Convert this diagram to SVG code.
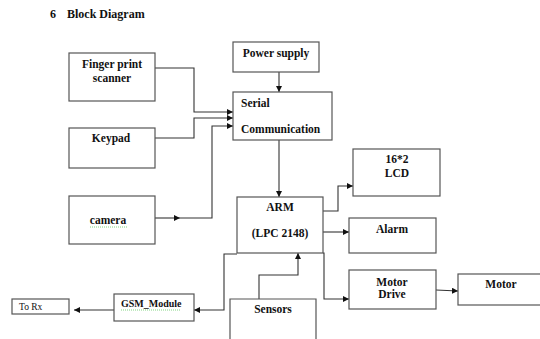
<svg xmlns="http://www.w3.org/2000/svg" width="540" height="339" viewBox="0 0 540 339">
<defs>
<style>
.box{fill:#fff;stroke:#555;stroke-width:1.2}
.c{fill:none;stroke:#333;stroke-width:1.1}
.t{font-family:"Liberation Serif","Times New Roman",serif;font-weight:bold;font-size:11.5px;fill:#111}
.m{text-anchor:middle}
.sq{fill:none;stroke:#6c6;stroke-width:0.8;stroke-dasharray:1 1}
</style>
<marker id="ah" viewBox="0 0 10 10" refX="10" refY="5" markerWidth="6" markerHeight="6" orient="auto" markerUnits="userSpaceOnUse">
<path d="M0,0 L10,5 L0,10 z" fill="#111"/>
</marker>
</defs>
<rect width="540" height="339" fill="#fff"/>
<text class="t" x="50" y="18" style="font-size:12px">6</text>
<text class="t" x="67" y="18" style="font-size:12px">Block Diagram</text>

<g id="connectors">
<polyline class="c" points="155,68 194,68 194,112 233,112" marker-end="url(#ah)"/>
<polyline class="c" points="155,138 194,138 194,118 233,118" marker-end="url(#ah)"/>
<line class="c" x1="155" y1="218" x2="180" y2="218" marker-end="url(#ah)"/>
<polyline class="c" points="180,218 212,218 212,126 233,126" marker-end="url(#ah)"/>
<line class="c" x1="279" y1="72" x2="279" y2="92" marker-end="url(#ah)"/>
<line class="c" x1="279" y1="140" x2="279" y2="197" marker-end="url(#ah)"/>
<polyline class="c" points="323,211 338,211 338,186 353,186" marker-end="url(#ah)"/>
<line class="c" x1="323" y1="232" x2="349" y2="232" marker-end="url(#ah)"/>
<polyline class="c" points="323,253 324,253 324,299 349,299" marker-end="url(#ah)"/>
<line class="c" x1="436" y1="290" x2="458" y2="291" marker-end="url(#ah)"/>
<polyline class="c" points="259,299 259,275 298,275 298,253" marker-end="url(#ah)"/>
<polyline class="c" points="237,254 224,254 224,310 194,310" marker-end="url(#ah)"/>
<line class="c" x1="114" y1="310" x2="74" y2="310" marker-end="url(#ah)"/>
</g>

<g id="finger">
<rect class="box" x="69" y="53" width="86" height="48"/>
<text class="t m" x="112" y="68">Finger print</text>
<text class="t m" x="112" y="82">scanner</text>
</g>
<g id="keypad">
<rect class="box" x="69" y="128" width="86" height="40"/>
<text class="t m" x="111" y="142">Keypad</text>
</g>
<g id="camera">
<rect class="box" x="69" y="196" width="86" height="48"/>
<text class="t m" x="108" y="224">camera</text>
<line class="sq" x1="90" y1="227" x2="127" y2="227"/>
</g>
<g id="power">
<rect class="box" x="233" y="42" width="86" height="30"/>
<text class="t m" x="276" y="57">Power supply</text>
</g>
<g id="serial">
<rect class="box" x="233" y="92" width="99" height="48"/>
<text class="t" x="241" y="107">Serial</text>
<text class="t" x="241" y="133">Communication</text>
</g>
<g id="arm">
<rect class="box" x="237" y="197" width="86" height="56"/>
<text class="t m" x="280" y="211">ARM</text>
<text class="t m" x="280" y="237">(LPC 2148)</text>
</g>
<g id="lcd">
<rect class="box" x="353" y="149" width="87" height="47"/>
<text class="t m" x="397" y="163">16*2</text>
<text class="t m" x="397" y="177">LCD</text>
</g>
<g id="alarm">
<rect class="box" x="349" y="218" width="87" height="35"/>
<text class="t m" x="392" y="233">Alarm</text>
</g>
<g id="motordrive">
<rect class="box" x="349" y="270" width="87" height="39"/>
<text class="t m" x="392" y="286">Motor</text>
<text class="t m" x="392" y="298">Drive</text>
</g>
<g id="motor">
<rect class="box" x="458" y="274" width="86" height="31"/>
<text class="t m" x="501" y="288">Motor</text>
</g>
<g id="sensors">
<polyline class="box" points="230,340 230,299 316,299 316,340"/>
<text class="t m" x="273" y="313">Sensors</text>
</g>
<g id="gsm">
<rect class="box" x="114" y="294" width="80" height="27"/>
<text class="t" x="121" y="307" style="font-size:10px">GSM_Module</text>
<line class="sq" x1="121" y1="310" x2="180" y2="310"/>
</g>
<g id="torx">
<rect class="box" x="12" y="299" width="57" height="15"/>
<text x="19" y="310" style="font-family:'Liberation Serif','Times New Roman',serif;font-size:9.5px;fill:#111">To Rx</text>
</g>
</svg>
